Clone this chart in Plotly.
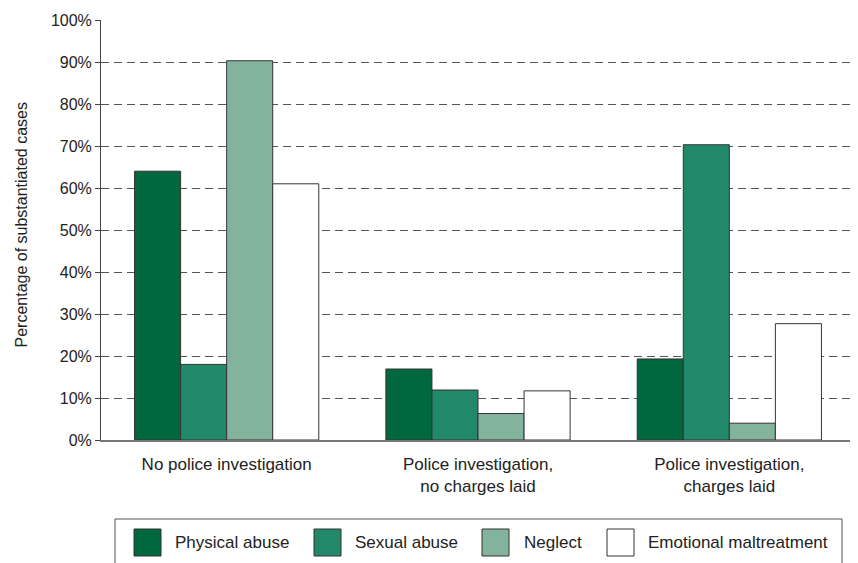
import plotly.graph_objects as go

categories = ["No police investigation",
              "Police investigation,<br>no charges laid",
              "Police investigation,<br>charges laid"]
series_names = ["Physical abuse", "Sexual abuse", "Neglect", "Emotional maltreatment"]
physical = [64.0, 16.9, 19.3]
sexual = [18.0, 11.9, 70.3]
neglect = [90.3, 6.3, 4.0]
emotional = [61.0, 11.7, 27.7]
colors = ["#00683C", "#21896A", "#84B39D", "#FFFFFF"]
y_ticks = [0, 10, 20, 30, 40, 50, 60, 70, 80, 90, 100]
y_labels = [f"{v}%" for v in y_ticks]
y_title = "Percentage of substantiated cases"

FONT = "Liberation Sans, Arial, Helvetica, sans-serif"
TXT = "#222222"

# the page body adds an 8px offset; figure is sized to fill the rest of the window
OFF = 8
W, H = 858 - OFF, 563 - OFF
L, R, T, B = 101 - OFF, 3, 20 - OFF, 123
PW, PH = W - L - R, H - T - B


def px_x(px):
    return (px - OFF - L) / PW


def px_y(py):
    return (H - B - (py - OFF)) / PH


fig = go.Figure()
for name, vals, col in zip(series_names, [physical, sexual, neglect, emotional], colors):
    fig.add_trace(go.Bar(x=categories, y=vals, name=name, showlegend=False,
                         marker=dict(color=col, line=dict(color="#333333", width=1))))

# custom legend (box + swatches + labels)
shapes = [dict(type="rect", xref="paper", yref="paper",
               x0=px_x(115), x1=px_x(842), y0=px_y(519), y1=px_y(600),
               line=dict(color="#555555", width=1), fillcolor="rgba(0,0,0,0)", layer="above")]
annotations = []
sw_left = [134, 314, 482, 607]
txt_left = [173, 353, 522, 646]
for name, col, sx, tx in zip(series_names, colors, sw_left, txt_left):
    shapes.append(dict(type="rect", xref="paper", yref="paper",
                       x0=px_x(sx), x1=px_x(sx + 27), y0=px_y(556), y1=px_y(529),
                       line=dict(color="#333333", width=1), fillcolor=col))
    annotations.append(dict(text=name, xref="paper", yref="paper", x=px_x(tx), y=px_y(542.5),
                            xanchor="left", yanchor="middle", showarrow=False,
                            font=dict(family=FONT, size=17, color=TXT)))

annotations.append(dict(text=y_title, xref="paper", yref="paper", x=px_x(21), y=px_y(224.5),
                        xanchor="center", yanchor="middle", textangle=-90, showarrow=False,
                        font=dict(family=FONT, size=16, color=TXT)))

fig.update_layout(
    width=W, height=H,
    margin=dict(l=L, r=R, t=T, b=B, autoexpand=False),
    paper_bgcolor="white", plot_bgcolor="white",
    barmode="group", bargap=0.267, bargroupgap=0,
    font=dict(family=FONT, size=16, color=TXT),
    showlegend=False,
    shapes=shapes, annotations=annotations,
    xaxis=dict(showline=True, linecolor="#777777", linewidth=1.5, ticks="",
               ticklabelstandoff=8, automargin=False,
               tickfont=dict(family=FONT, size=17, color=TXT), showgrid=False),
    yaxis=dict(range=[0, 100], tickvals=y_ticks, ticktext=y_labels, automargin=False,
               showline=True, linecolor="#444444", linewidth=1,
               ticks="outside", ticklen=5, tickcolor="#444444",
               showgrid=True, gridcolor="#555555", gridwidth=1, griddash="8px,5px",
               zeroline=False,
               tickfont=dict(family=FONT, size=16, color=TXT)),
)

fig.write_html("out.html")
